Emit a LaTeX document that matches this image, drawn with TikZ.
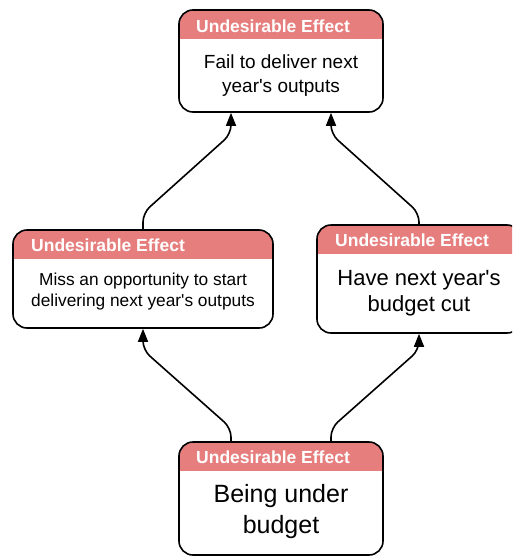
\documentclass[tikz,border=0pt]{standalone}
\usepackage{fontspec}
\setmainfont{Liberation Sans}
\usetikzlibrary{arrows.meta}
\definecolor{uered}{HTML}{E67E7E}
\newcommand{\apos}{\textquotesingle}
\tikzset{
  uebox/.style={draw=black, line width=1.6pt, rounded corners=14pt, inner sep=0pt,
    fill=white,
    path picture={\fill[uered, sharp corners] (path picture bounding box.north west) rectangle
      ([yshift=-29pt]path picture bounding box.north east);}},
  uehead/.style={anchor=base west, text=white, font=\fontsize{17.5}{20}\selectfont\bfseries, inner sep=0pt},
  uebody/.style={align=center, inner sep=0pt},
  conn/.style={line width=1.6pt, rounded corners=9pt, -{Triangle[length=13pt,width=10pt]}},
}
\begin{document}
\begin{tikzpicture}[x=1pt,y=-1pt]
\useasboundingbox (0,0) rectangle (512,557);
\clip (0,0) rectangle (512,557);

% boxes
\node[uebox, minimum width=204pt, minimum height=102pt] (top) at (281,61) {};
\node[uebox, minimum width=260pt, minimum height=98pt] (ml) at (143,279) {};
\node[uebox, minimum width=204pt, minimum height=108pt] (mr) at (419,279) {};
\node[uebox, minimum width=204pt, minimum height=113pt] (bot) at (281,498.5) {};

% headers
\node[uehead] (toph) at (196,32) {Undesirable Effect};
\node[uehead] (mlh) at (31,251) {Undesirable Effect};
\node[uehead] (mrh) at (335,246) {Undesirable Effect};
\node[uehead] (both) at (196,463) {Undesirable Effect};

% body texts
\node[uebody, font=\fontsize{19}{24}\selectfont] (topb) at (281,76)
  {Fail to deliver next\\year\apos s outputs};
\node[uebody, font=\fontsize{17.3}{21}\selectfont] (mlb) at (143,292)
  {Miss an opportunity to start\\delivering next year\apos s outputs};
\node[uebody, font=\fontsize{22}{26}\selectfont] (mrb) at (419,293)
  {Have next year\apos s\\budget cut};
\node[uebody, font=\fontsize{25}{31}\selectfont] (botb) at (281,512)
  {Being under\\budget};

% connectors
\draw[conn] (ml.north) -- (143,213) -- (231,134) -- ([xshift=-50pt]top.south);
\draw[conn] (mr.north) -- (419,213) -- (331,134) -- ([xshift=50pt]top.south);
\draw[conn] ([xshift=-50pt]bot.north) -- (231,428) -- (143,350) -- (ml.south);
\draw[conn] ([xshift=50pt]bot.north) -- (331,428) -- (419,350) -- (mr.south);
\end{tikzpicture}
\end{document}
